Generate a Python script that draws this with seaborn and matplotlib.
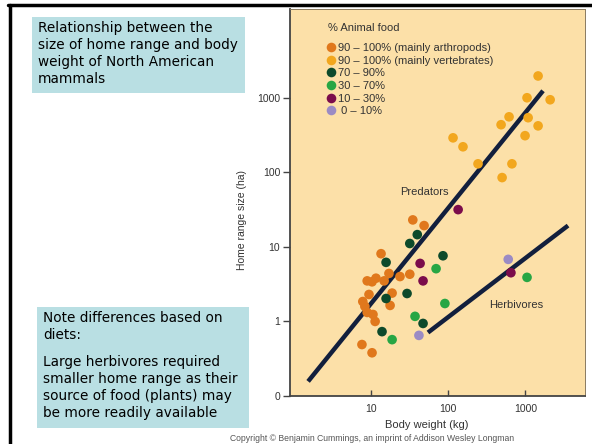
import pandas as pd
import seaborn as sns
import matplotlib.pyplot as plt
from matplotlib.patches import Rectangle
from matplotlib.lines import Line2D
from matplotlib.ticker import NullLocator

# Diet groups (legend order)
diet_labels = [
    "90 \u2013 100% (mainly arthropods)",
    "90 \u2013 100% (mainly vertebrates)",
    "70 \u2013 90%",
    "30 \u2013 70%",
    "10 \u2013 30%",
    " 0 \u2013 10%",
]
diet_colors = ["#E0781C", "#F2A71E", "#0D4A2B", "#27A644", "#7B0C4B", "#9B8BC4"]

# Body weight (kg) / home range (ha)
arthropods_w = [35, 49, 13.6, 9.0, 10.4, 11.7, 14.9, 17.2, 23.9, 32, 9.5, 18.9,
                17.8, 7.9, 8.4, 9.0, 10.7, 11.4, 7.7, 10.4]
arthropods_h = [23, 19.3, 8.1, 3.5, 3.4, 3.8, 3.5, 4.4, 4.0, 4.3, 2.3, 2.4,
                1.64, 1.85, 1.59, 1.32, 1.24, 1.0, 0.49, 0.38]

vertebrates_w = [1460, 1050, 2090, 615, 485, 1085, 1460, 990, 670, 500, 244, 156, 116]
vertebrates_h = [1960, 1000, 940, 555, 435, 540, 420, 310, 130, 85, 130, 220, 290]

p70_90_w = [40, 32, 15.8, 86, 29.5, 15.8, 47.5, 14.0]
p70_90_h = [14.6, 11.1, 6.2, 7.6, 2.37, 2.03, 0.94, 0.73]

p30_70_w = [70, 91, 37.4, 18.9, 1050]
p30_70_h = [5.1, 1.74, 1.17, 0.57, 3.9]

p10_30_w = [135, 43.5, 47.5, 650]
p10_30_h = [31.6, 6.0, 3.5, 4.5]

p0_10_w = [42, 600]
p0_10_h = [0.65, 6.8]

# Regression lines (endpoints in data units)
pred_line_w = [1.55, 1690]
pred_line_h = [0.157, 1240]
herb_line_w = [55, 3560]
herb_line_h = [0.71, 19.3]

groups = [(arthropods_w, arthropods_h), (vertebrates_w, vertebrates_h),
          (p70_90_w, p70_90_h), (p30_70_w, p30_70_h),
          (p10_30_w, p10_30_h), (p0_10_w, p0_10_h)]
rows = []
for label, (ws, hs) in zip(diet_labels, groups):
    for w, h in zip(ws, hs):
        rows.append({"weight": w, "range": h, "diet": label})
df = pd.DataFrame(rows)

sns.set_style("ticks")
plt.rcParams["font.family"] = ["Liberation Sans", "DejaVu Sans"]

fig = plt.figure(figsize=(5.92, 4.44), dpi=100)
fig.patch.set_facecolor("white")
ax = fig.add_axes([290 / 592, 1 - 396 / 444, 295 / 592, 387 / 444])
ax.set_facecolor("#FCE0A8")

ax.set_xscale("log")
ax.set_yscale("log")
ax.set_xlim(0.904, 5900)
ax.set_ylim(0.1, 15500)

line_col = "#121F3D"
ax.plot(pred_line_w, pred_line_h, color=line_col, lw=3.2, solid_capstyle="butt", zorder=3)
ax.plot(herb_line_w, herb_line_h, color=line_col, lw=3.2, solid_capstyle="butt", zorder=3)

sns.scatterplot(data=df, x="weight", y="range", hue="diet", hue_order=diet_labels,
                palette=dict(zip(diet_labels, diet_colors)), s=48, linewidth=0,
                ax=ax, zorder=4)

sns.move_legend(ax, "upper left", bbox_to_anchor=(327 / 592, 1 - 43 / 444),
                bbox_transform=fig.transFigure, frameon=False, title=None,
                fontsize=8, borderpad=0, borderaxespad=0, handlelength=0.8,
                handletextpad=0.15, labelspacing=0.24)
for t in ax.get_legend().get_texts():
    t.set_color("#333333")
fig.text(328 / 592, 1 - 28 / 444, "% Animal food", fontsize=8, color="#333333",
         ha="left", va="center")

ax.set_xticks([10, 100, 1000])
ax.set_xticklabels(["10", "100", "1000"])
ax.set_yticks([0.1, 1, 10, 100, 1000])
ax.set_yticklabels(["0", "1", "10", "100", "1000"])
ax.xaxis.set_minor_locator(NullLocator())
ax.yaxis.set_minor_locator(NullLocator())
ax.tick_params(axis="x", direction="in", length=4, width=1, color="#444444",
               labelsize=7.5, labelcolor="#333333", pad=6)
ax.tick_params(axis="y", direction="out", length=5, width=1, color="#444444",
               labelsize=7.5, labelcolor="#333333", pad=2)

for side in ["left", "bottom"]:
    ax.spines[side].set_color("#444444")
    ax.spines[side].set_linewidth(1.3)
for side in ["top", "right"]:
    ax.spines[side].set_color("#8a7a60")
    ax.spines[side].set_linewidth(0.7)

ax.set_xlabel("Body weight (kg)", fontsize=8, color="#333333")
ax.set_ylabel("Home range size (ha)", fontsize=7.5, color="#333333")
ax.xaxis.set_label_coords(0.464, -0.062)
ax.yaxis.set_label_coords(-0.146, 0.455)

fig.text(424 / 592, 1 - 192 / 444, "Predators", fontsize=8, color="#333333",
         ha="center", va="center")
fig.text(516 / 592, 1 - 305 / 444, "Herbivores", fontsize=8, color="#333333",
         ha="center", va="center")

fig.text(372 / 592, 1 - 438 / 444,
         "Copyright \u00a9 Benjamin Cummings, an imprint of Addison Wesley Longman",
         fontsize=6.2, color="#555555", ha="center", va="center")

# slide decorations: border lines and text boxes
fig.add_artist(Line2D([8 / 592, 1], [1 - 5 / 444, 1 - 5 / 444], color="black", lw=2.5,
                      transform=fig.transFigure))
fig.add_artist(Line2D([9.5 / 592, 9.5 / 592], [0, 1 - 5 / 444], color="black", lw=2.5,
                      transform=fig.transFigure))

box_col = "#B9DFE3"
fig.add_artist(Rectangle((32 / 592, 1 - 93 / 444), 213 / 592, 76 / 444,
                         transform=fig.transFigure, facecolor=box_col, edgecolor="none"))
fig.add_artist(Rectangle((37 / 592, 1 - 428 / 444), 212 / 592, 121 / 444,
                         transform=fig.transFigure, facecolor=box_col, edgecolor="none"))

box_font = ["DejaVu Sans"]
fig.text(38 / 592, 1 - 21 / 444,
         "Relationship between the\nsize of home range and body\nweight of North American\nmammals",
         fontsize=9.8, family=box_font, color="black", ha="left", va="top", linespacing=1.27)
fig.text(43 / 592, 1 - 311 / 444, "Note differences based on\ndiets:",
         fontsize=9.8, family=box_font, color="black", ha="left", va="top", linespacing=1.27)
fig.text(43 / 592, 1 - 355 / 444,
         "Large herbivores required\nsmaller home range as their\nsource of food (plants) may\nbe more readily available",
         fontsize=9.8, family=box_font, color="black", ha="left", va="top", linespacing=1.27)

fig.savefig("out.png", dpi=100)
